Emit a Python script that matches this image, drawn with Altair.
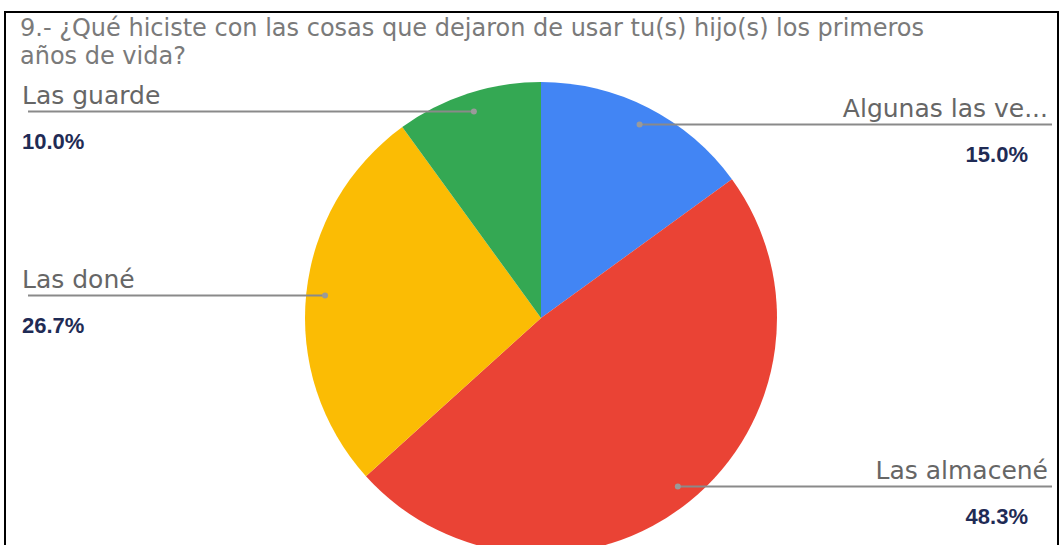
import altair as alt
import pandas as pd
import numpy as np

TITLE_LINES = [
    "9.- ¿Qué hiciste con las cosas que dejaron de usar tu(s) hijo(s) los primeros",
    "años de vida?",
]
CATEGORIES = ["Algunas las ve...", "Las almacené", "Las doné", "Las guarde"]
PERCENTS = [15.0, 48.3, 26.7, 10.0]
COLORS = ["#4285F4", "#EA4335", "#FBBC04", "#34A853"]

W, H = 1063, 545
CX, CY, R = 541, 318, 236
DOT_R = 0.92 * R
LEFT_TEXT_X, RIGHT_TEXT_X = 22, 1048
LEFT_PCT_X, RIGHT_PCT_X = 22, 1028
LINE_LEFT, LINE_RIGHT = 28, 1052
FONT = "DejaVu Sans"
PCT_FONT = "Liberation Sans"

vals = np.array(PERCENTS)
cum = np.cumsum(vals)
mid = (cum - vals / 2) / vals.sum() * 2 * np.pi
dot_x = CX + DOT_R * np.sin(mid)
dot_y = CY - DOT_R * np.cos(mid)
right = np.sin(mid) >= 0

df = pd.DataFrame({
    "idx": np.arange(len(CATEGORIES)),
    "category": CATEGORIES,
    "value": PERCENTS,
    "pct": [f"{v:.1f}%" for v in PERCENTS],
    "dot_x": dot_x,
    "dot_y": dot_y,
    "line_end": np.where(right, LINE_RIGHT, LINE_LEFT),
    "text_x": np.where(right, RIGHT_TEXT_X, LEFT_TEXT_X),
    "pct_x": np.where(right, RIGHT_PCT_X, LEFT_PCT_X),
    "label_y": dot_y - 8,
    "pct_y": dot_y + 37,
    "side": np.where(right, "right", "left"),
})

base = alt.Chart(df)

pie = base.mark_arc(radius=R).encode(
    theta=alt.Theta("value:Q", stack=True),
    color=alt.Color("category:N", scale=alt.Scale(domain=CATEGORIES, range=COLORS), legend=None),
    order=alt.Order("idx:Q"),
    x=alt.value(CX),
    y=alt.value(CY),
)

leaders = base.mark_rule(color="#8a8a8a", strokeWidth=2).encode(
    x=alt.X("dot_x:Q", scale=None),
    x2="line_end:Q",
    y=alt.Y("dot_y:Q", scale=None),
)

dots = base.mark_circle(color="#9a9a9a", opacity=1, size=36).encode(
    x=alt.X("dot_x:Q", scale=None),
    y=alt.Y("dot_y:Q", scale=None),
)

def labels(side, align):
    d = base.transform_filter(alt.datum.side == side)
    name = d.mark_text(align=align, baseline="alphabetic", font=FONT, fontSize=25,
                       color="#666666").encode(
        x=alt.X("text_x:Q", scale=None),
        y=alt.Y("label_y:Q", scale=None),
        text="category:N",
    )
    pct = d.mark_text(align=align, baseline="alphabetic", font=PCT_FONT, fontSize=22,
                      fontWeight="bold", color="#1f2b55").encode(
        x=alt.X("pct_x:Q", scale=None),
        y=alt.Y("pct_y:Q", scale=None),
        text="pct:N",
    )
    return name + pct

title = alt.Chart(pd.DataFrame({"t": [0]})).mark_text(
    text=TITLE_LINES, align="left", baseline="alphabetic", font=FONT, fontSize=24,
    lineHeight=28, color="#7a7a7a",
).encode(x=alt.value(20), y=alt.value(36))

border = alt.Chart(pd.DataFrame({"t": [0]})).mark_rect(
    filled=False, stroke="#000000", strokeWidth=2,
).encode(x=alt.value(5), x2=alt.value(1058), y=alt.value(12), y2=alt.value(580))

chart = alt.layer(
    pie, leaders, dots, labels("left", "left"), labels("right", "right"), title, border
).properties(
    width=W, height=H, padding=0, autosize=alt.AutoSizeParams(type="none"),
    background="white",
).configure_view(stroke=None)

chart.save("out.html", embed_options={"renderer": "svg", "actions": False})
